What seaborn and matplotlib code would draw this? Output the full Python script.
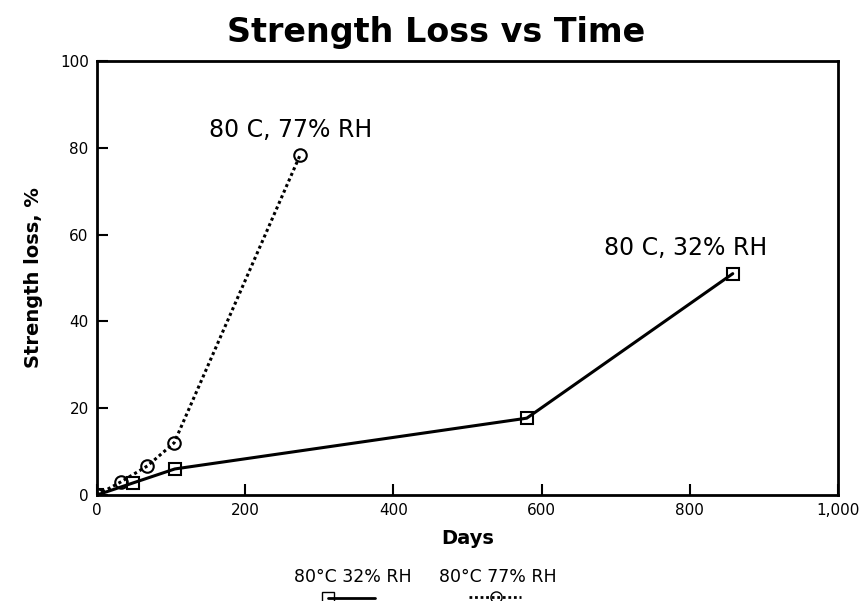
import matplotlib
matplotlib.use("Agg")
import matplotlib.pyplot as plt
from matplotlib.lines import Line2D
from matplotlib.ticker import FuncFormatter
import seaborn as sns
import pandas as pd

# Data
days_32 = [0, 49, 105, 580, 858]
loss_32 = [0, 2.8, 6.0, 17.7, 51]
days_77 = [0, 32, 68, 104, 274]
loss_77 = [0, 3.0, 6.7, 12.0, 78.3]
series_names = ["80 C, 32% RH", "80 C, 77% RH"]
legend_labels = ["80°C 32% RH", "80°C 77% RH"]
x_ticks = [0, 200, 400, 600, 800, 1000]
y_ticks = [0, 20, 40, 60, 80, 100]

sns.set_theme(style="white")
plt.rcParams['font.family'] = ['DejaVu Sans']
plt.rcParams['text.color'] = 'black'
plt.rcParams['axes.labelcolor'] = 'black'

df32 = pd.DataFrame({"Days": days_32, "Loss": loss_32})
df77 = pd.DataFrame({"Days": days_77, "Loss": loss_77})

fig = plt.figure(figsize=(8.68, 6.01), dpi=100)
ax = fig.add_axes([0.1118, 0.1764, 0.8536, 0.7221])

sns.lineplot(data=df32, x="Days", y="Loss", ax=ax, color="black", linewidth=2.2,
             marker="s", markersize=8, markerfacecolor="none", markeredgecolor="black",
             markeredgewidth=1.5, linestyle="-")
sns.lineplot(data=df77, x="Days", y="Loss", ax=ax, color="black", linewidth=2.2,
             marker="o", markersize=9, markerfacecolor="none", markeredgecolor="black",
             markeredgewidth=1.5, linestyle=(0, (1, 1)))

ax.set_xlim(0, 1000)
ax.set_ylim(0, 100)
ax.set_xticks(x_ticks)
ax.set_yticks(y_ticks)
ax.xaxis.set_major_formatter(FuncFormatter(lambda v, p: f"{int(v):,}"))
ax.tick_params(axis="both", direction="in", length=8, width=1.5, labelsize=11,
               bottom=True, left=True, top=False, right=False, pad=6, colors="black")
for s in ax.spines.values():
    s.set_linewidth(2)
    s.set_color("black")

ax.set_xlabel("Days", fontsize=14, fontweight="bold", labelpad=8, color="black")
ax.set_ylabel("Strength loss, %", fontsize=14, fontweight="bold", labelpad=12, color="black")
fig.suptitle("Strength Loss vs Time", fontsize=24, fontweight="bold", x=0.503, y=0.973,
             color="black")

ax.text(261, 84, series_names[1], fontsize=17, ha="center", va="center", color="black")
ax.text(795, 57, series_names[0], fontsize=17, ha="center", va="center", color="black")

# Bottom legend (partially cut off like the reference)
fig.text(0.406, 0.04, legend_labels[0], fontsize=12.5, ha="center", va="center", color="black")
fig.text(0.574, 0.04, legend_labels[1], fontsize=12.5, ha="center", va="center", color="black")
fig.add_artist(Line2D([0.378, 0.432], [0.005, 0.005], transform=fig.transFigure,
                      color="black", linewidth=2, marker="s", markevery=[0],
                      markersize=8, markerfacecolor="none"))
fig.add_artist(Line2D([0.54, 0.60], [0.006, 0.006], transform=fig.transFigure,
                      color="black", linewidth=2, linestyle=(0, (1, 1))))
fig.add_artist(Line2D([0.572], [0.006], transform=fig.transFigure,
                      color="black", marker="o", markersize=8, markerfacecolor="none"))

fig.savefig("out.png", dpi=100)
